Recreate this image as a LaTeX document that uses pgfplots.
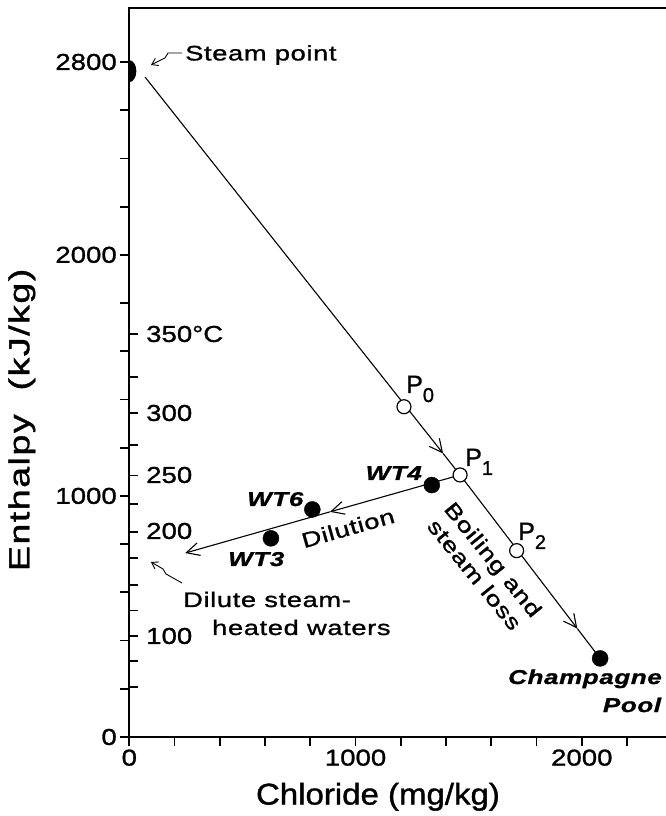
\documentclass[border=0pt]{standalone}
\usepackage{fontspec}
\setmainfont{Liberation Sans}[FakeBold=1]
\newfontfamily\tickfont[FakeStretch=1.2,FakeBold=1.2]{Liberation Sans}
\newfontfamily\annfont[FakeStretch=1.3,LetterSpace=3,FakeBold=1.2]{Liberation Sans}
\newfontfamily\labfont[FakeStretch=1.1,FakeBold=1.2]{Liberation Sans}
\newfontfamily\ylabfont[FakeStretch=1.3,LetterSpace=5,FakeBold=1.2]{Liberation Sans}
\usepackage{pgfplots}
\pgfplotsset{compat=1.18}
\usetikzlibrary{arrows.meta}
\pgfdeclareplotmark{halfblob}{%
  \pgfpathmoveto{\pgfqpoint{0pt}{\pgfplotmarksize}}%
  \pgfpatharc{90}{-90}{\pgfplotmarksize}%
  \pgfpathclose
  \pgfusepathqfill}
\tikzset{barb/.style={-{Straight Barb[length=13pt,width=13pt]}}}
\newcommand{\ann}{\annfont\fontsize{21}{24}\selectfont}
\newcommand{\bi}{\annfont\fontsize{20}{20}\selectfont\bfseries\itshape}
\newcommand{\tk}{\tickfont\fontsize{23}{23}\selectfont}
\begin{document}
\begin{tikzpicture}
\begin{axis}[
  at={(0,0)}, anchor=south west,
  scale only axis, width=543pt, height=729pt,
  xmin=0, xmax=2400, ymin=0, ymax=3024,
  axis line style={line width=2.4pt},
  tick pos=left, tick align=outside,
  xtick={0,1000,2000}, minor xtick={200,400,...,2200},
  ytick={0,1000,2000,2800}, minor ytick={200,400,...,2600},
  major tick length=9pt, minor tick length=9pt,
  tick style={black, line width=1.8pt},
  extra y ticks={209,314,419,525,632,741,852,967,1085,1210,1344,1493,1671},
  extra y tick labels={},
  extra y tick style={tick align=inside, major tick length=9pt},
  ticklabel style={font=\tk},
  /pgf/number format/assume math mode=true,
  /pgf/number format/1000 sep={},
  xlabel={Chloride (mg/kg)}, ylabel={Enthalpy\ \ (kJ/kg)},
  xlabel style={at={(axis description cs:0.458,-0.082)}, anchor=center, font=\labfont\fontsize{30}{30}\selectfont},
  ylabel style={at={(axis description cs:-0.198,0.435)}, anchor=center, font=\ylabfont\fontsize{29}{29}\selectfont},
]
% steam point (half blob on the axis)
\addplot[black, only marks, mark=halfblob, mark size=11pt, mark options={xscale=0.64}] coordinates {(0,2762)};
% boiling line: steam point -> P1 -> Champagne Pool
\addplot[black, line width=1.1pt, barb] coordinates {(70,2737) (1387,1176)};
\addplot[black, line width=1.1pt] coordinates {(1387,1176) (1462,1087)};
\addplot[black, line width=1.1pt, barb] coordinates {(1462,1087) (1980,450)};
\addplot[black, line width=1.1pt] coordinates {(1980,450) (2081,326)};
% dilution line
\addplot[black, line width=1.1pt, barb] coordinates {(1462,1087) (887,934)};
\addplot[black, line width=1.1pt, barb] coordinates {(887,934) (247,763)};
% open points P0, P1, P2
\addplot[black, only marks, mark=*, mark size=7pt, mark options={fill=white, line width=1.2pt}] coordinates {(1214,1370) (1462,1087) (1712,773)};
% filled points WT4, WT6, WT3, Champagne Pool
\addplot[black, only marks, mark=*, mark size=8pt] coordinates {(1337,1045) (809,944) (626,824) (2081,326)};
\end{axis}
\begin{scope}[shift={(-129.3pt,737pt)}, x=1pt, y=-1pt]
  % Steam point annotation
  \node[anchor=west, font=\ann, inner sep=0] at (185,55) {Steam point};
  \draw[line width=0.9pt, -{Straight Barb[length=6pt,width=8pt]}] (182,53) -- (168,53) -- (165,58) -- (151,65);
  % Dilute steam-heated waters
  \node[anchor=base west, font=\ann, inner sep=0] at (183,607) {Dilute steam-};
  \node[anchor=base west, font=\ann, inner sep=0] at (212,635) {heated waters};
  \draw[line width=0.9pt, -{Straight Barb[length=6pt,width=8pt]}] (182,583) -- (166,574) -- (163,569) -- (151,562);
  % temperature labels
  \node[anchor=west, font=\tk, inner sep=0] at (146,334) {350°C};
  \node[anchor=west, font=\tk, inner sep=0] at (146,413) {300};
  \node[anchor=west, font=\tk, inner sep=0] at (146,475) {250};
  \node[anchor=west, font=\tk, inner sep=0] at (146,531) {200};
  \node[anchor=west, font=\tk, inner sep=0] at (146,636) {100};
  % P labels
  \node[anchor=base west, inner sep=0, font=\fontsize{25}{25}\selectfont] at (406,393) {P\raisebox{-9pt}{\fontsize{20}{20}\selectfont 0}};
  \node[anchor=base west, inner sep=0, font=\fontsize{25}{25}\selectfont] at (465,466) {P\raisebox{-9pt}{\fontsize{20}{20}\selectfont 1}};
  \node[anchor=base west, inner sep=0, font=\fontsize{25}{25}\selectfont] at (518,540) {P\raisebox{-9pt}{\fontsize{20}{20}\selectfont 2}};
  % WT labels
  \node[anchor=base east, inner sep=0, font=\bi] at (422,480) {WT4};
  \node[anchor=base west, inner sep=0, font=\bi] at (247,506) {WT6};
  \node[anchor=base west, inner sep=0, font=\bi] at (228,566) {WT3};
  \node[anchor=base west, inner sep=0, font=\bi] at (508,684) {Champagne};
  \node[anchor=base, inner sep=0, font=\bi] at (632,712) {Pool};
  % process labels
  \node[rotate=15.8, font=\ann, inner sep=0] at (348,528) {Dilution};
  \node[rotate=-51, align=center, font=\ann, inner sep=0] at (484,567) {Boiling and\\steam loss};
\end{scope}
\pgfresetboundingbox
\path[use as bounding box] (-129.3pt,-79pt) rectangle (536.7pt,737pt);
\end{tikzpicture}
\end{document}
